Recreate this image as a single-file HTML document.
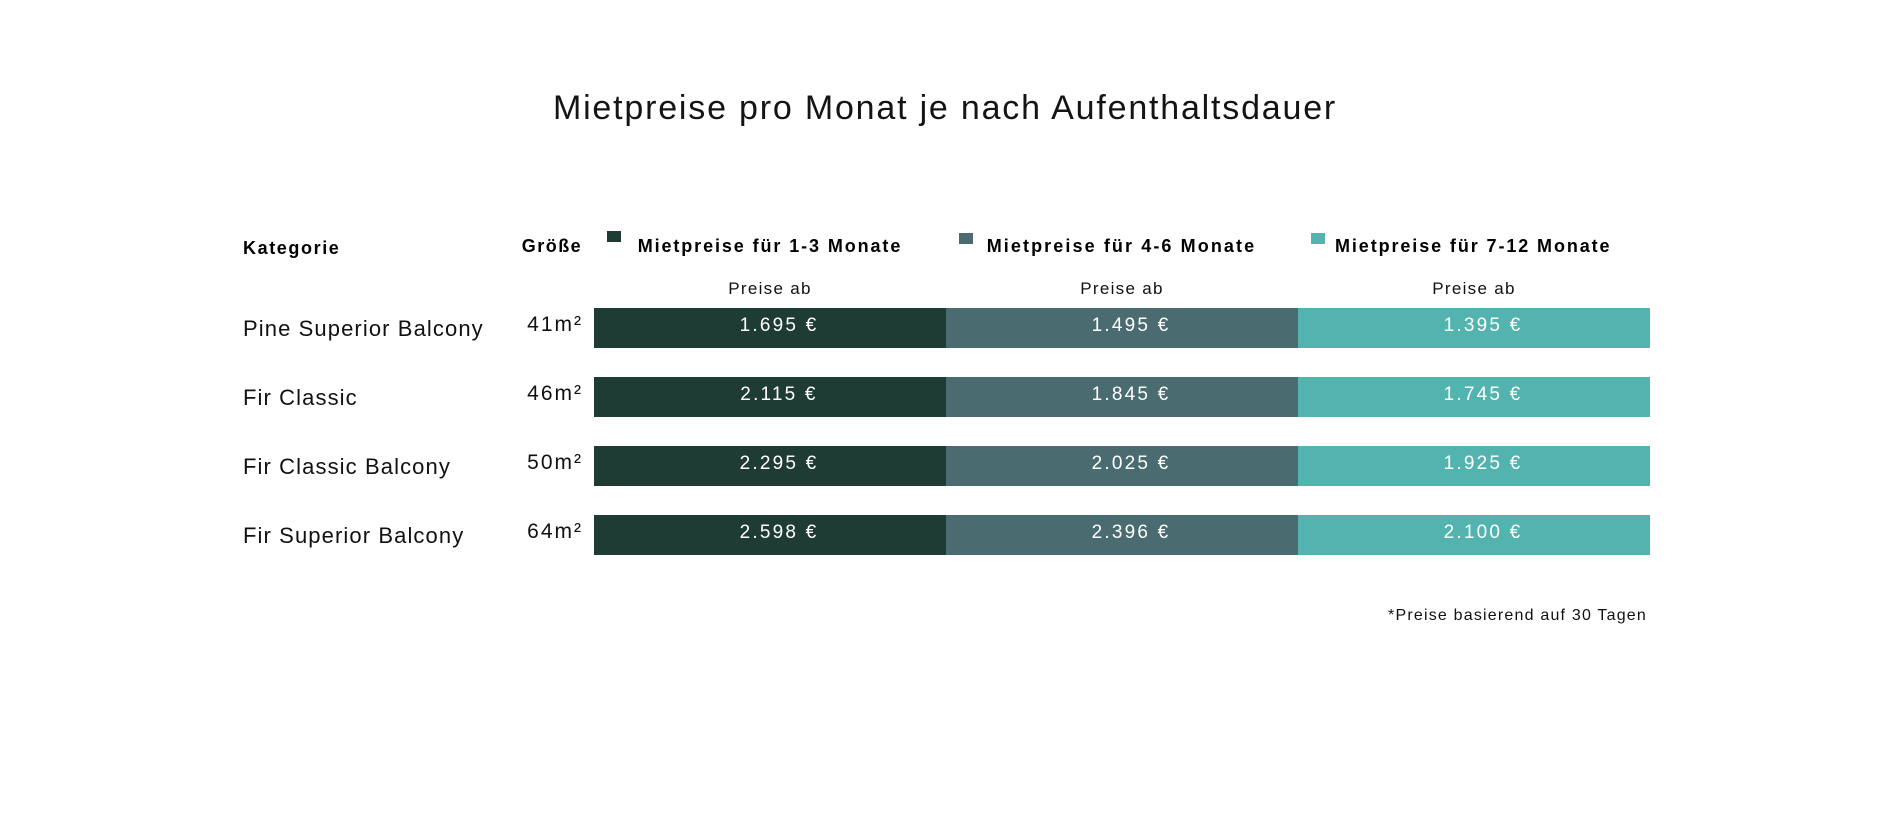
<!DOCTYPE html>
<html>
<head>
<meta charset="utf-8">
<style>
  html, body { margin:0; padding:0; background:#ffffff; }
  body { width:1902px; height:831px; position:relative; overflow:hidden;
         font-family:"Liberation Sans", Arial, sans-serif; color:#111; }
  .t { position:absolute; white-space:nowrap; line-height:1; }
  .title { left:0; width:1890px; top:90.5px; font-size:34px; text-align:center; letter-spacing:1.8px; color:#141414; }
  .hb { font-weight:bold; font-size:18px; color:#000; }
  .sq { position:absolute; width:14px; height:11px; }
  .pa { font-size:17px; width:352px; text-align:center; letter-spacing:1.3px; top:279.6px; }
  .bar { position:absolute; left:594px; width:1056px; height:40px; display:flex; }
  .seg { width:352px; height:40px; position:relative; }
  .seg span { position:absolute; left:0; right:0; top:7.6px; padding-left:18px; text-align:center;
              font-size:19px; line-height:1; letter-spacing:2.2px; color:#ffffff; }
  .c1 { background:#1f3c34; }
  .c2 { background:#4a6b6f; }
  .c3 { background:#53b4af; }
  .lbl { font-size:22px; left:243px; letter-spacing:1.1px; color:#111; }
  .sz { font-size:21px; right:1319px; letter-spacing:2px; text-align:right; color:#111; }
  .fn { font-size:16px; right:255px; top:607.5px; letter-spacing:1.2px; color:#111; }
</style>
</head>
<body>
  <div class="t title">Mietpreise pro Monat je nach Aufenthaltsdauer</div>

  <div class="t hb" style="left:243px; top:239.1px; letter-spacing:1.6px;">Kategorie</div>
  <div class="t hb" style="left:521.7px; top:236.8px; letter-spacing:1.5px;">Größe</div>

  <div class="sq c1" style="left:607px; top:231px;"></div>
  <div class="t hb" style="left:637.7px; top:237.1px; letter-spacing:1.9px;">Mietpreise für 1-3 Monate</div>
  <div class="sq c2" style="left:959px; top:233px;"></div>
  <div class="t hb" style="left:986.7px; top:237.1px; letter-spacing:2.1px;">Mietpreise für 4-6 Monate</div>
  <div class="sq c3" style="left:1311px; top:233px;"></div>
  <div class="t hb" style="left:1335px; top:237.1px; letter-spacing:1.9px;">Mietpreise für 7-12 Monate</div>

  <div class="t pa" style="left:594px;">Preise ab</div>
  <div class="t pa" style="left:946px;">Preise ab</div>
  <div class="t pa" style="left:1298px;">Preise ab</div>

  <!-- Row 1 -->
  <div class="t lbl" style="top:318.1px;">Pine Superior Balcony</div>
  <div class="t sz" style="top:313.9px;">41m²</div>
  <div class="bar" style="top:308px;">
    <div class="seg c1"><span>1.695 €</span></div>
    <div class="seg c2"><span>1.495 €</span></div>
    <div class="seg c3"><span>1.395 €</span></div>
  </div>

  <!-- Row 2 -->
  <div class="t lbl" style="top:387.1px;">Fir Classic</div>
  <div class="t sz" style="top:382.9px;">46m²</div>
  <div class="bar" style="top:377px;">
    <div class="seg c1"><span>2.115 €</span></div>
    <div class="seg c2"><span>1.845 €</span></div>
    <div class="seg c3"><span>1.745 €</span></div>
  </div>

  <!-- Row 3 -->
  <div class="t lbl" style="top:456.1px;">Fir Classic Balcony</div>
  <div class="t sz" style="top:451.9px;">50m²</div>
  <div class="bar" style="top:446px;">
    <div class="seg c1"><span>2.295 €</span></div>
    <div class="seg c2"><span>2.025 €</span></div>
    <div class="seg c3"><span>1.925 €</span></div>
  </div>

  <!-- Row 4 -->
  <div class="t lbl" style="top:525.1px;">Fir Superior Balcony</div>
  <div class="t sz" style="top:520.9px;">64m²</div>
  <div class="bar" style="top:515px;">
    <div class="seg c1"><span>2.598 €</span></div>
    <div class="seg c2"><span>2.396 €</span></div>
    <div class="seg c3"><span>2.100 €</span></div>
  </div>

  <div class="t fn">*Preise basierend auf 30 Tagen</div>
</body>
</html>
